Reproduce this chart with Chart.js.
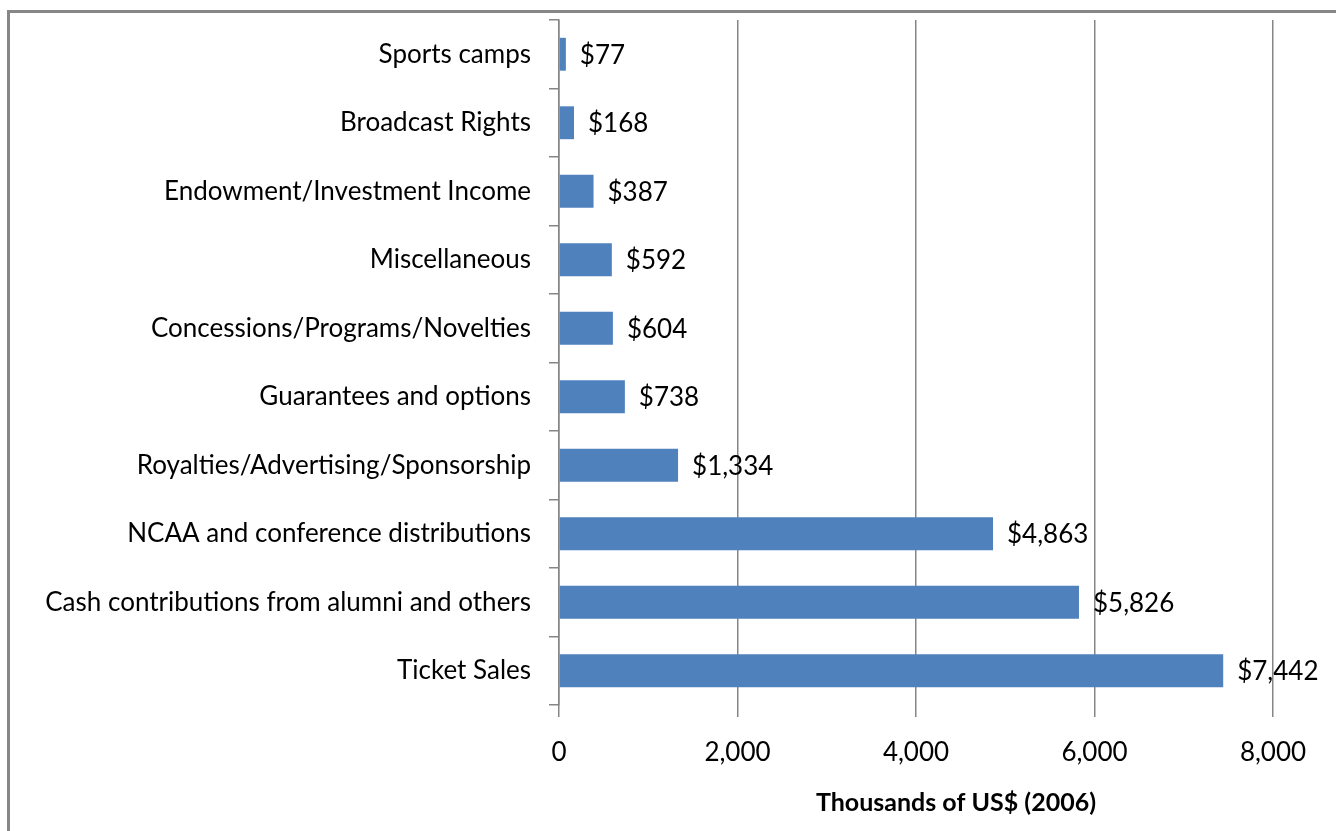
<!DOCTYPE html>
<html lang="en">
<head>
<meta charset="UTF-8">
<title>Athletic revenue sources</title>
<script src="https://cdn.jsdelivr.net/npm/chart.js"></script>
<style>
    body { margin: 0; background: #fff; overflow: hidden; }
    #frame {
        position: absolute; left: 7px; top: 10px; right: -10px; bottom: -10px;
        border-left: 3px solid #878787; border-top: 3px solid #878787;
    }
    #wrap { position: absolute; left: 0; top: 0; width: 1336px; height: 831px; }
</style>
</head>
<body>
<div id="frame"></div>
<div id="wrap"><canvas id="revChart" width="1336" height="831"></canvas></div>
<script>
    // revenue categories, top to bottom
    var categories = [
        'Sports camps',
        'Broadcast Rights',
        'Endowment/Investment Income',
        'Miscellaneous',
        'Concessions/Programs/Novelties',
        'Guarantees and options',
        'Royalties/Advertising/Sponsorship',
        'NCAA and conference distributions',
        'Cash contributions from alumni and others',
        'Ticket Sales'
    ];
    // thousands of US$ (2006)
    var revenue = [77, 168, 387, 592, 604, 738, 1334, 4863, 5826, 7442];
    var xTicks = [0, 2000, 4000, 6000, 8000];
    var xTitle = 'Thousands of US$ (2006)';

    var FONT = 'Lato, "Open Sans", sans-serif';
    var GRID = '#868686';

    // "$1,334" style labels at the end of each bar, plus the axis title
    var valueLabels = {
        id: 'valueLabels',
        afterDatasetsDraw: function (chart) {
            var ctx = chart.ctx;
            var meta = chart.getDatasetMeta(0);
            ctx.save();
            ctx.font = '26px ' + FONT;
            ctx.fillStyle = '#000';
            ctx.textBaseline = 'middle';
            ctx.textAlign = 'left';
            meta.data.forEach(function (bar, i) {
                ctx.fillText('$' + revenue[i].toLocaleString('en-US'), bar.x + 14, bar.y + 1);
            });
            // axis title sits a bit right of the plot centre
            ctx.font = 'bold 25px ' + FONT;
            ctx.textAlign = 'center';
            var a = chart.chartArea;
            ctx.fillText(xTitle, (a.left + a.right) / 2 + 40, 803);
            ctx.restore();
        }
    };

    new Chart(document.getElementById('revChart').getContext('2d'), {
        type: 'bar',
        data: {
            labels: categories,
            datasets: [{
                data: revenue,
                backgroundColor: '#4F81BD',
                borderWidth: 0,
                categoryPercentage: 1,
                barPercentage: 0.48
            }]
        },
        options: {
            indexAxis: 'y',
            responsive: false,
            animation: false,
            layout: { padding: { left: 0, right: 63, top: 20, bottom: 0 } },
            plugins: {
                legend: { display: false },
                tooltip: { enabled: false }
            },
            scales: {
                x: {
                    min: 0,
                    max: 8000,
                    afterBuildTicks: function (axis) {
                        axis.ticks = xTicks.map(function (v) { return { value: v }; });
                    },
                    afterFit: function (axis) { axis.height = 126; },
                    grid: { color: GRID, lineWidth: 1.5, tickLength: 12 },
                    border: { display: false },
                    ticks: {
                        color: '#000',
                        padding: 20,
                        font: { family: FONT, size: 26 },
                        callback: function (v) { return v.toLocaleString('en-US'); }
                    }
                },
                y: {
                    afterFit: function (axis) {
                        axis.width = 559;
                        axis.paddingTop = 0;
                        axis.paddingBottom = 0;
                    },
                    grid: {
                        offset: true,
                        drawOnChartArea: false,
                        color: GRID,
                        lineWidth: 1.5,
                        tickLength: 10
                    },
                    border: { display: true, color: GRID, width: 1.5 },
                    ticks: {
                        color: '#000',
                        padding: 18,
                        font: { family: FONT, size: 26 }
                    }
                }
            }
        },
        plugins: [valueLabels]
    });
</script>
</body>
</html>
